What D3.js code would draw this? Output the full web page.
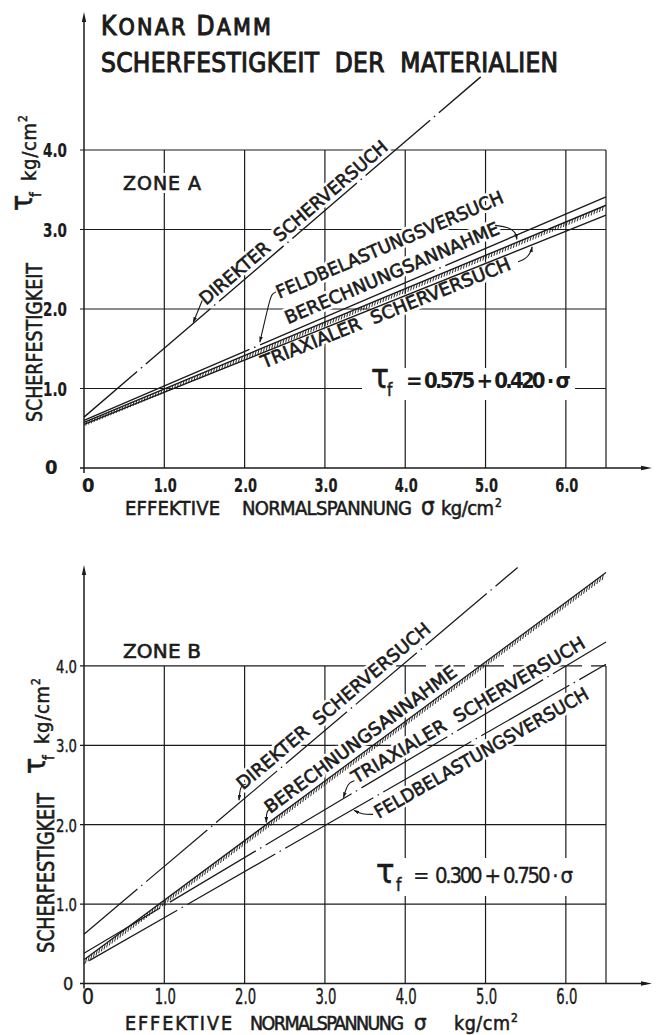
<!DOCTYPE html>
<html>
<head>
<meta charset="utf-8">
<script src="https://cdn.jsdelivr.net/npm/d3@7/dist/d3.min.js"></script>
<style>
  html, body { margin:0; padding:0; background:#ffffff; }
  svg { display:block; }
  text { white-space: pre; }
</style>
</head>
<body>
<svg id="chart" width="656" height="1035"></svg>
<script>
// ================= DATA =================
const seriesNames = ["DIREKTER  SCHERVERSUCH", "FELDBELASTUNGSVERSUCH", "BERECHNUNGSANNAHME", "TRIAXIALER  SCHERVERSUCH"];
const xTicks = [0, 1, 2, 3, 4, 5, 6];
const xTickLabels = ["0", "1.0", "2.0", "3.0", "4.0", "5.0", "6.0"];
const yTicks = [0, 1, 2, 3, 4];
const yTickLabels = ["0", "1.0", "2.0", "3.0", "4.0"];
const gridX = [1, 2, 3, 4, 5, 6, 6.5];
const gridY = [1, 2, 3, 4];

// order: direkter, feldbelastung, berechnungsannahme, triaxial
// tau at sigma = 0
const zoneAStart = [0.64, 0.60, 0.575, 0.55];
// [sigma, tau] where each line ends
const zoneAEnd = [[4.94, 4.92], [6.5, 3.41], [6.5, 3.305], [6.5, 3.18]];
const zoneBStart = [0.62, 0.25, 0.300, 0.38];
const zoneBEnd = [[5.40, 5.24], [6.5, 4.02], [6.5, 5.175], [6.5, 4.30]];

const titleParts = ["K", "ONAR ", "D", "AMM"];
const subtitle = "SCHERFESTIGKEIT  DER  MATERIALIEN";
const zoneNames = ["ZONE A", "ZONE B"];
const equationText = ["0.575 + 0.420 · σ", "0.300 + 0.750 · σ"];
const yAxisTitle = "SCHERFESTIGKEIT";
const xAxisWords = ["EFFEKTIVE", "NORMALSPANNUNG", "σ", "kg/cm"];

// ================= DRAWING =================
const svg = d3.select("#chart");
const LET = "'DejaVu Sans','Noto Sans',sans-serif";
const LETC = "'DejaVu Sans Condensed','DejaVu Sans',sans-serif";
const NUM = "'Liberation Sans Narrow','Arial Narrow','DejaVu Sans Condensed',sans-serif";
const INK = "#1b1b1b";

svg.append("rect").attr("width", 656).attr("height", 1035).attr("fill", "#fff");
const defs = svg.append("defs");
defs.append("marker").attr("id", "arrow").attr("viewBox", "0 0 10 6")
  .attr("refX", 9).attr("refY", 3).attr("markerWidth", 6).attr("markerHeight", 3.6)
  .attr("markerUnits", "userSpaceOnUse").attr("orient", "auto")
  .append("path").attr("d", "M0,0 L10,3 L0,6 Z").attr("fill", INK);

const x = d3.scaleLinear().domain([0, 6.5]).range([84, 606]);

const zones = [
  {
    name: zoneNames[0], y: d3.scaleLinear().domain([0, 4]).range([468, 150]),
    start: zoneAStart, end: zoneAEnd, top: 12, lw: 1.4,
    dash: [["85,5,1.5,5", 15], ["190,5,1.5,5", 10], null, null],
    hatch: [-1, 4.5], hatchStep: 3.0,
    labelSize: 18,
    labels: [
      {ref: 0, txt: seriesNames[0], s: 1.52, e: 3.80, off: 5},
      {ref: 1, txt: seriesNames[1], s: 2.43, e: 5.24, off: 35},
      {ref: 1, txt: seriesNames[2], s: 2.54, e: 5.19, off: 8},
      {ref: 3, txt: seriesNames[3], s: 2.24, e: 5.33, off: -15}
    ],
    leaders: [
      {ref: 0, tip: 1.36, pts: [[9, -23], [0, -1]]},
      {ref: 1, tip: 2.19, pts: [[16, -53], [12, -51], [10, -46], [0, -3]]},
      {ref: 2, tip: 5.39, pts: [[-22, -17], [-8, -15], [-1, -10], [0, -3]]},
      {ref: 3, tip: 5.58, pts: [[-14, 17], [-6, 14], [-1, 7], [0, 2]]}
    ],
    zoneLabel: {x: 123, y: 190, size: 19, len: 78},
    eq: {rect: [362, 368, 213, 32], tauX: 371, tauSize: 33, base: 388, fX: 387, eqX: 406, numX: 424, numLen: 147, bold: true},
    yTickAnchor: "start", yTickX: 43, yTickSize: 20, yTickBold: true, yTickLen: 24,
    xTickBase: 492, xTickSize: 20, xTickBold: true, xTickLen: 23,
    yTitle: {x: 42, y: 422, len: 159, size: 22},
    yUnit: {x: 36, y: 211},
    xTitle: {base: 515, size: 20, sigma: 24, pos: [[125, 95], [242, 170], [421, 0], [441, 53]], sup: 495},
    dashTopFrom: null
  },
  {
    name: zoneNames[1], y: d3.scaleLinear().domain([0, 4]).range([983.5, 665.9]),
    start: zoneBStart, end: zoneBEnd, top: 565, lw: 1.25,
    dash: [["80,5,1.5,5", 10], ["101.5,5,1.5,5", -6], null, ["100,5,1.5,5", 11.5]],
    hatch: [-1.2, 5.5], hatchStep: 3.3,
    labelSize: 18,
    labels: [
      {ref: 0, txt: seriesNames[0], s: 1.98, e: 4.33, off: 7},
      {ref: 2, txt: seriesNames[2], s: 2.32, e: 4.66, off: 6},
      {ref: 3, txt: seriesNames[3], s: 3.39, e: 6.26, off: 6},
      {ref: 1, txt: seriesNames[1], s: 3.67, e: 6.30, off: -21}
    ],
    leaders: [
      {ref: 0, tip: 1.93, pts: [[7, -19], [3, -18], [1, -14], [0, -3]]},
      {ref: 2, tip: 2.27, pts: [[6, -16], [2, -15], [0, -11], [0, -2]]},
      {ref: 3, tip: 3.23, pts: [[11, -18], [6, -16], [3, -11], [0, -1]]},
      {ref: 1, tip: 3.35, pts: [[20, 5], [9, 5], [1, 1]]}
    ],
    zoneLabel: {x: 123, y: 658, size: 20, len: 78},
    eq: {rect: [368, 858, 212, 38], tauX: 376, tauSize: 34, base: 883, fX: 396, eqX: 413, numX: 435, numLen: 138, bold: false},
    yTickAnchor: "end", yTickX: 77, yTickSize: 18, yTickBold: false, yTickLen: 21,
    xTickBase: 1004, xTickSize: 21, xTickBold: false, xTickLen: 21,
    yTitle: {x: 54, y: 953, len: 160, size: 23},
    yUnit: {x: 49, y: 774},
    xTitle: {base: 1030, size: 19.5, sigma: 22, pos: [[125, 107], [250, 154], [414, 0], [454, 56]], sup: 511},
    dashTopFrom: 3.4
  }
];

function geom(z, i) {
  const s0 = 0, t0 = z.start[i], s1 = z.end[i][0], t1 = z.end[i][1];
  const p0 = [x(s0), z.y(t0)], p1 = [x(s1), z.y(t1)];
  const dx = p1[0] - p0[0], dy = p1[1] - p0[1], L = Math.hypot(dx, dy);
  const u = [dx / L, dy / L], n = [u[1], -u[0]];
  const onLine = s => { const f = (s - s0) / (s1 - s0); return [p0[0] + f * dx, p0[1] + f * dy]; };
  const atX = (s, off) => {
    const b = onLine(s); const q = [b[0] + off * n[0], b[1] + off * n[1]];
    const k = (x(s) - q[0]) / u[0]; return [q[0] + k * u[0], q[1] + k * u[1]];
  };
  return {p0, p1, u, n, L, onLine, atX, ang: Math.atan2(dy, dx) * 180 / Math.PI};
}

function haloStyle(sel, k, sw) {
  if (k === 0) sel.attr("fill", "#fff").attr("stroke", "#fff").attr("stroke-width", 6).attr("stroke-linejoin", "round");
  else sel.attr("fill", INK).attr("stroke", INK).attr("stroke-width", sw === undefined ? 0.65 : sw);
}

zones.forEach(z => {
  const g = svg.append("g");
  const gGrid = g.append("g"), gHalo = g.append("g"), gLines = g.append("g"), gText = g.append("g");
  const layers = [gHalo, gText];

  // ---- grid ----
  gGrid.selectAll("line.h").data(gridY).join("line").attr("class", "h")
    .attr("x1", x(0) - 4)
    .attr("x2", d => (z.dashTopFrom !== null && d === 4) ? x(z.dashTopFrom) : x(6.5))
    .attr("y1", d => z.y(d)).attr("y2", d => z.y(d))
    .attr("stroke", INK).attr("stroke-width", 1.2);
  if (z.dashTopFrom !== null) {
    gGrid.append("line").attr("x1", x(z.dashTopFrom)).attr("x2", x(6.5))
      .attr("y1", z.y(4)).attr("y2", z.y(4)).attr("stroke", INK).attr("stroke-width", 1.2)
      .attr("stroke-dasharray", "30,9");
  }
  gGrid.selectAll("line.v").data(gridX).join("line").attr("class", "v")
    .attr("x1", d => x(d)).attr("x2", d => x(d))
    .attr("y1", z.y(0)).attr("y2", z.y(4))
    .attr("stroke", INK).attr("stroke-width", 1.2);

  // ---- axes ----
  gGrid.append("line").attr("x1", x(0)).attr("x2", x(0)).attr("y1", z.y(0) + 5).attr("y2", z.top + 6)
    .attr("stroke", INK).attr("stroke-width", 1.5);
  gGrid.append("path").attr("d", `M${x(0)},${z.top} L${x(0) - 2.2},${z.top + 10} L${x(0) + 2.2},${z.top + 10} Z`).attr("fill", INK);
  gGrid.append("line").attr("x1", x(0) - 4).attr("x2", 646).attr("y1", z.y(0)).attr("y2", z.y(0))
    .attr("stroke", INK).attr("stroke-width", 1.5);
  gGrid.append("path").attr("d", `M652,${z.y(0)} L641,${z.y(0) - 2.2} L641,${z.y(0) + 2.2} Z`).attr("fill", INK);

  // ---- series lines ----
  const lineGen = d3.line().x(d => x(d[0])).y(d => z.y(d[1]));
  for (let i = 0; i < 4; i++) {
    const pts = [[0, z.start[i]], z.end[i]];
    const p = gLines.append("path").attr("d", lineGen(pts)).attr("fill", "none")
      .attr("stroke", INK).attr("stroke-width", z.lw);
    if (z.dash[i]) p.attr("stroke-dasharray", z.dash[i][0]).attr("stroke-dashoffset", z.dash[i][1]);
  }
  // hatching under the design line (Berechnungsannahme)
  {
    const G = geom(z, 2);
    const N = Math.round(G.L / z.hatchStep);
    const hp = [];
    for (let k = 1; k < N; k++) {
      const f = k / N;
      const px = G.p0[0] + f * (G.p1[0] - G.p0[0]), py = G.p0[1] + f * (G.p1[1] - G.p0[1]);
      hp.push(`M${px.toFixed(2)},${py.toFixed(2)} l${z.hatch[0]},${z.hatch[1]}`);
    }
    gLines.append("path").attr("d", hp.join(" ")).attr("stroke", INK).attr("stroke-width", 0.9).attr("fill", "none");
  }

  // ---- line labels ----
  z.labels.forEach(lb => {
    const G = geom(z, lb.ref);
    const a = G.atX(lb.s, lb.off), b = G.atX(lb.e, lb.off);
    const len = Math.hypot(b[0] - a[0], b[1] - a[1]);
    layers.forEach((layer, k) => {
      const t = layer.append("text")
        .attr("transform", `translate(${a[0].toFixed(2)},${a[1].toFixed(2)}) rotate(${G.ang.toFixed(2)})`)
        .attr("font-family", LET).attr("font-size", z.labelSize)
        .attr("textLength", len.toFixed(1)).attr("lengthAdjust", "spacingAndGlyphs")
        .text(lb.txt);
      haloStyle(t, k);
    });
  });

  // ---- leaders ----
  z.leaders.forEach(ld => {
    const G = geom(z, ld.ref);
    const tip = G.onLine(ld.tip);
    const pts = ld.pts.map(p => [tip[0] + p[0], tip[1] + p[1]]);
    gLines.append("path").attr("d", d3.line().curve(d3.curveBasis)(pts))
      .attr("fill", "none").attr("stroke", INK).attr("stroke-width", 1.1)
      .attr("marker-end", "url(#arrow)");
  });

  // ---- zone label ----
  layers.forEach((layer, k) => {
    const t = layer.append("text").attr("x", z.zoneLabel.x).attr("y", z.zoneLabel.y)
      .attr("font-family", LET).attr("font-size", z.zoneLabel.size)
      .attr("textLength", z.zoneLabel.len).attr("lengthAdjust", "spacing").text(z.name);
    haloStyle(t, k);
  });

  // ---- equation ----
  const e = z.eq;
  const zi = zones.indexOf(z);
  gHalo.append("rect").attr("x", e.rect[0]).attr("y", e.rect[1]).attr("width", e.rect[2]).attr("height", e.rect[3]).attr("fill", "#fff");
  const wt = e.bold ? "bold" : "normal";
  gText.append("text").attr("x", e.tauX).attr("y", e.base).attr("font-family", LETC)
    .attr("font-size", e.tauSize).attr("fill", INK).attr("stroke", INK).attr("stroke-width", 0.6).text("τ");
  gText.append("text").attr("x", e.fX).attr("y", e.base + 8).attr("font-family", LETC)
    .attr("font-size", 17).attr("fill", INK).attr("stroke", INK).attr("stroke-width", 0.5).text("f");
  gText.append("text").attr("x", e.eqX).attr("y", e.base).attr("font-family", NUM)
    .attr("font-size", 22).attr("font-weight", wt).attr("fill", INK).text("=");
  gText.append("text").attr("x", e.numX).attr("y", e.base).attr("font-family", NUM)
    .attr("font-size", 22).attr("font-weight", wt).attr("fill", INK)
    .attr("stroke", INK).attr("stroke-width", e.bold ? 0 : 0.35)
    .attr("textLength", e.numLen).attr("lengthAdjust", "spacing").text(equationText[zi]);

  // ---- tick labels ----
  yTicks.forEach((v, j) => {
    layers.forEach((layer, k) => {
      const t = layer.append("text")
        .attr("x", j === 0 ? (z.yTickAnchor === "start" ? z.yTickX + 2 : z.yTickX - 14) : z.yTickX)
        .attr("y", z.y(v) + (j === 0 ? 6 : 7))
        .attr("text-anchor", j === 0 ? "start" : z.yTickAnchor)
        .attr("font-family", NUM).attr("font-size", z.yTickSize)
        .attr("font-weight", z.yTickBold ? "bold" : "normal")
        .text(yTickLabels[j]);
      if (j > 0) t.attr("textLength", z.yTickLen).attr("lengthAdjust", "spacingAndGlyphs");
      haloStyle(t, k, z.yTickBold ? 0.2 : 0.4);
    });
  });
  xTicks.forEach((v, j) => {
    const t = gText.append("text")
      .attr("x", j === 0 ? x(v) - 2 : x(v) - z.xTickLen / 2 + 1)
      .attr("y", z.xTickBase)
      .attr("font-family", NUM).attr("font-size", z.xTickSize)
      .attr("font-weight", z.xTickBold ? "bold" : "normal").attr("fill", INK)
      .attr("stroke", INK).attr("stroke-width", z.xTickBold ? 0.2 : 0.4)
      .text(xTickLabels[j]);
    if (j > 0) t.attr("textLength", z.xTickLen).attr("lengthAdjust", "spacingAndGlyphs");
  });

  // ---- y axis title ----
  gText.append("text")
    .attr("transform", `translate(${z.yTitle.x},${z.yTitle.y}) rotate(-90)`)
    .attr("font-family", LETC).attr("font-size", z.yTitle.size).attr("fill", INK)
    .attr("stroke", INK).attr("stroke-width", 0.6)
    .attr("textLength", z.yTitle.len).attr("lengthAdjust", "spacingAndGlyphs")
    .text(yAxisTitle);
  const u = gText.append("text")
    .attr("transform", `translate(${z.yUnit.x},${z.yUnit.y}) rotate(-90)`)
    .attr("font-family", LETC).attr("fill", INK).attr("stroke", INK).attr("stroke-width", 0.5);
  u.append("tspan").attr("x", 0).attr("y", -4).attr("font-size", 30).text("τ");
  u.append("tspan").attr("x", 14).attr("y", 5).attr("font-size", 15).text("f");
  u.append("tspan").attr("x", 30).attr("y", 0).attr("font-size", 20)
    .attr("textLength", 58).attr("lengthAdjust", "spacing").text("kg/cm");
  u.append("tspan").attr("x", 89).attr("y", -9).attr("font-size", 12).text("2");

  // ---- x axis title ----
  const xt = z.xTitle;
  xAxisWords.forEach((w, j) => {
    const t = gText.append("text").attr("x", xt.pos[j][0]).attr("y", xt.base)
      .attr("font-family", LETC).attr("font-size", j === 2 ? xt.sigma : xt.size).attr("fill", INK)
      .attr("stroke", INK).attr("stroke-width", 0.55).text(w);
    if (xt.pos[j][1] > 0) t.attr("textLength", xt.pos[j][1]).attr("lengthAdjust", "spacing");
  });
  gText.append("text").attr("x", xt.sup).attr("y", xt.base - 8).attr("font-family", LETC)
    .attr("font-size", 12).attr("fill", INK).attr("stroke", INK).attr("stroke-width", 0.5).text("2");
});

// ---- title ----
const title = svg.append("text").attr("x", 101).attr("y", 35).attr("font-family", LETC)
  .attr("fill", INK).attr("stroke", INK).attr("stroke-width", 1.0).attr("letter-spacing", 2.2);
titleParts.forEach((p, j) => {
  title.append("tspan").attr("font-size", j % 2 === 0 ? 26 : 23).text(p);
});
svg.append("text").attr("x", 101).attr("y", 72).attr("font-family", LETC).attr("font-size", 26)
  .attr("fill", INK).attr("stroke", INK).attr("stroke-width", 1.0)
  .attr("textLength", 457).attr("lengthAdjust", "spacing").text(subtitle);
</script>
</body>
</html>
